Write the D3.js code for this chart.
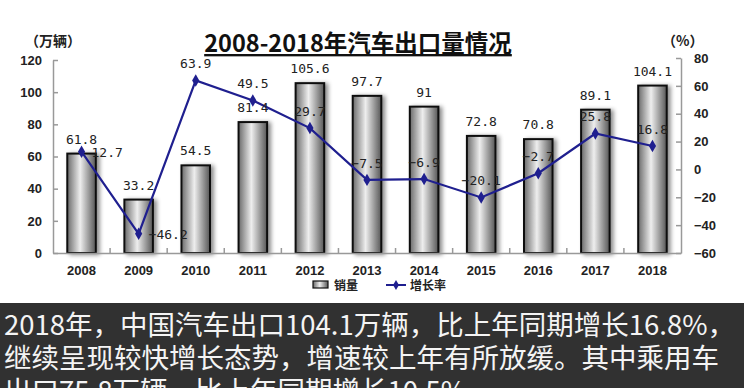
<!DOCTYPE html>
<html>
<head>
<meta charset="utf-8">
<script src="https://cdn.jsdelivr.net/npm/d3@7"></script>
<style>
  body { margin: 0; background: #fff; }
  svg { display: block; }
</style>
</head>
<body>
<svg width="744" height="388"></svg>
<script>
// ---------- data ----------
const years = ["2008", "2009", "2010", "2011", "2012", "2013", "2014", "2015", "2016", "2017", "2018"];
const sales = [61.8, 33.2, 54.5, 81.4, 105.6, 97.7, 91, 72.8, 70.8, 89.1, 104.1];
const growth = [12.7, -46.2, 63.9, 49.5, 29.7, -7.5, -6.9, -20.1, -2.7, 25.8, 16.8];
const leftTicks = [0, 20, 40, 60, 80, 100, 120];
const rightTicks = [-60, -40, -20, 0, 20, 40, 60, 80];
const captionLines = [
  "2018年，中国汽车出口104.1万辆，比上年同期增长16.8%，",
  "继续呈现较快增长态势，增速较上年有所放缓。其中乘用车",
  "出口75.8万辆，比上年同期增长10.5%"
];

const svg = d3.select("svg");
const plotLeft = 53, plotRight = 681, plotTop = 60, plotBottom = 253;

// ---------- defs ----------
const defs = svg.append("defs");
const grad = defs.append("linearGradient").attr("id", "barGrad")
  .attr("x1", "0%").attr("x2", "100%").attr("y1", "0%").attr("y2", "0%");
grad.append("stop").attr("offset", "0%").attr("stop-color", "#6a6a6a");
grad.append("stop").attr("offset", "45%").attr("stop-color", "#eeeeee");
grad.append("stop").attr("offset", "100%").attr("stop-color", "#565656");

const shadow = defs.append("filter").attr("id", "shadow")
  .attr("x", "-30%").attr("y", "-10%").attr("width", "160%").attr("height", "120%");
shadow.append("feDropShadow").attr("dx", 3).attr("dy", 1).attr("stdDeviation", 2.2)
  .attr("flood-color", "#000").attr("flood-opacity", 0.45);

// ---------- scales ----------
const x = d3.scaleBand().domain(years).range([plotLeft, plotRight]).paddingInner(0.5).paddingOuter(0.25);
const yL = d3.scaleLinear().domain([0, 120]).range([plotBottom, plotTop]);
const yR = d3.scaleLinear().domain([-60, 80]).range([plotBottom, 58]);
const cx = d => x(d) + x.bandwidth() / 2;

const axisFont = "'Liberation Sans', Arial, sans-serif";
const labelFont = "'DejaVu Sans Mono', monospace";

// ---------- bars ----------
svg.append("g").selectAll("rect")
  .data(years)
  .enter()
  .append("rect")
  .attr("x", d => x(d))
  .attr("y", (d, i) => yL(sales[i]))
  .attr("width", x.bandwidth())
  .attr("height", (d, i) => plotBottom - yL(sales[i]))
  .attr("fill", "url(#barGrad)")
  .attr("stroke", "#111")
  .attr("stroke-width", 2)
  .attr("filter", "url(#shadow)");

// ---------- axes ----------
const gL = svg.append("g").attr("transform", "translate(" + plotLeft + ",0)")
  .call(d3.axisLeft(yL).tickValues(leftTicks).tickSizeInner(-5).tickSizeOuter(0).tickPadding(11));
const gR = svg.append("g").attr("transform", "translate(" + plotRight + ",0)")
  .call(d3.axisRight(yR).tickValues(rightTicks).tickSizeInner(-5).tickSizeOuter(0).tickPadding(13)
    .tickFormat(d => d < 0 ? "\u2212" + Math.abs(d) : d));
const gB = svg.append("g").attr("transform", "translate(0," + plotBottom + ")")
  .call(d3.axisBottom(x).tickSize(0).tickSizeOuter(0).tickPadding(13));

[gL, gR, gB].forEach(g => {
  g.select(".domain").attr("stroke", "#999").attr("stroke-width", 1.5);
  g.selectAll(".tick line").attr("stroke", "#999").attr("stroke-width", 1.5);
  g.selectAll("text").attr("font-family", axisFont).attr("font-weight", "bold")
    .attr("font-size", 13).attr("fill", "#222");
});

// boundary ticks on the category axis
svg.append("g").selectAll("line")
  .data(years.slice(1))
  .enter()
  .append("line")
  .attr("x1", d => x(d) - x.step() * 0.25)
  .attr("x2", d => x(d) - x.step() * 0.25)
  .attr("y1", plotBottom)
  .attr("y2", plotBottom - 5)
  .attr("stroke", "#999")
  .attr("stroke-width", 1.5);

// ---------- growth line ----------
const line = d3.line().x((d, i) => cx(years[i])).y(d => yR(d));
svg.append("path")
  .datum(growth)
  .attr("d", line)
  .attr("fill", "none")
  .attr("stroke", "#1f1f8f")
  .attr("stroke-width", 2.2);

const diamond = d3.symbol().type(d3.symbolDiamond).size(45);
svg.append("g").selectAll("path")
  .data(growth)
  .enter()
  .append("path")
  .attr("d", diamond)
  .attr("transform", (d, i) => "translate(" + cx(years[i]) + "," + yR(d) + ")")
  .attr("fill", "#1f1f8f");

// ---------- labels ----------
const fmt = v => (v < 0 ? "\u2212" : "") + Math.abs(v);

svg.append("g").selectAll("text")
  .data(sales)
  .enter()
  .append("text")
  .attr("x", (d, i) => cx(years[i]))
  .attr("y", d => yL(d) - 10)
  .attr("text-anchor", "middle")
  .attr("font-family", labelFont)
  .attr("font-size", 13)
  .attr("fill", "#222")
  .text(d => d);

svg.append("g").selectAll("text")
  .data(growth)
  .enter()
  .append("text")
  .attr("x", (d, i) => i < 2 ? cx(years[i]) + 10 : cx(years[i]))
  .attr("y", (d, i) => i < 2 ? yR(d) + 5 : yR(d) - 12)
  .attr("text-anchor", (d, i) => i < 2 ? "start" : "middle")
  .attr("font-family", labelFont)
  .attr("font-size", 13)
  .attr("fill", "#222")
  .text(d => fmt(d));

// ---------- titles ----------
svg.append("text")
  .attr("x", 358).attr("y", 52)
  .attr("text-anchor", "middle")
  .attr("font-family", "'Noto Sans CJK SC', sans-serif")
  .attr("font-weight", "bold")
  .attr("font-size", 23.5)
  .attr("text-decoration", "underline")
  .attr("fill", "#111")
  .text("2008-2018年汽车出口量情况");

svg.append("text")
  .attr("x", 25).attr("y", 46)
  .attr("font-family", "'Noto Sans CJK SC', sans-serif")
  .attr("font-weight", "bold").attr("font-size", 14).attr("fill", "#222")
  .text("（万辆）");

svg.append("text")
  .attr("x", 662).attr("y", 46)
  .attr("font-family", "'Noto Sans CJK SC', sans-serif")
  .attr("font-weight", "bold").attr("font-size", 14).attr("fill", "#222")
  .text("（%）");

// ---------- legend ----------
const lg = svg.append("g");
lg.append("rect").attr("x", 313).attr("y", 281).attr("width", 15).attr("height", 7)
  .attr("fill", "url(#barGrad)").attr("stroke", "#111").attr("stroke-width", 1.2);
lg.append("text").attr("x", 334).attr("y", 290)
  .attr("font-family", "'Noto Sans CJK SC', sans-serif").attr("font-weight", "bold")
  .attr("font-size", 12).attr("fill", "#222").text("销量");
lg.append("line").attr("x1", 386).attr("x2", 406).attr("y1", 285).attr("y2", 285)
  .attr("stroke", "#1f1f8f").attr("stroke-width", 2);
lg.append("path").attr("d", d3.symbol().type(d3.symbolDiamond).size(30))
  .attr("transform", "translate(396,285)").attr("fill", "#1f1f8f");
lg.append("text").attr("x", 410).attr("y", 290)
  .attr("font-family", "'Noto Sans CJK SC', sans-serif").attr("font-weight", "bold")
  .attr("font-size", 12).attr("fill", "#222").text("增长率");

// ---------- caption band ----------
svg.append("rect").attr("x", 0).attr("y", 303).attr("width", 744).attr("height", 85)
  .attr("fill", "#313131");
svg.append("g").selectAll("text")
  .data(captionLines)
  .enter()
  .append("text")
  .attr("x", 4)
  .attr("y", (d, i) => 335 + i * 33)
  .attr("font-family", "'Noto Sans CJK SC', sans-serif")
  .attr("font-size", 27.5)
  .attr("fill", "#f4f4f4")
  .text(d => d);
</script>
</body>
</html>
